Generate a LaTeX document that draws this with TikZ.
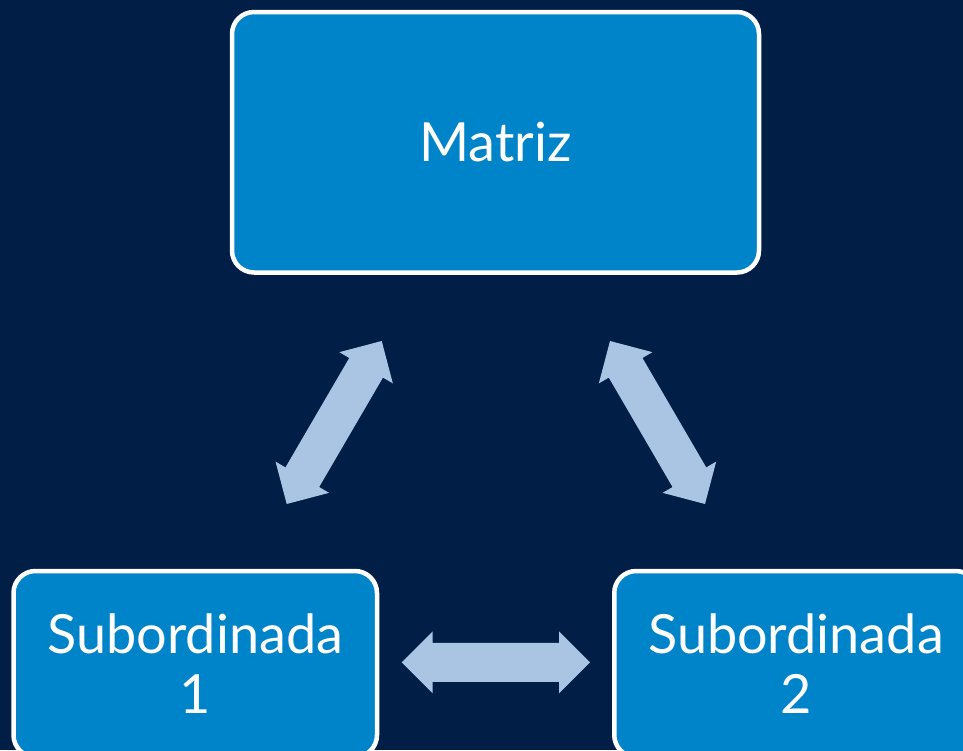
\documentclass[tikz,border=0pt]{standalone}
\usepackage{fontspec}
\setmainfont{Lato}
\usetikzlibrary{calc}
\definecolor{bgnavy}{HTML}{001E46}
\definecolor{boxblue}{HTML}{0084C9}
\definecolor{arrowblue}{HTML}{A9C5E3}
\tikzset{
  box/.style={draw=white, line width=4.5pt, fill=boxblue, rounded corners=22pt,
    inner sep=0pt, text=white, align=center,
    font=\fontsize{54}{60}\selectfont},
  blockarrow/.style={fill=arrowblue, draw=none}
}
\newcommand\myblockarrow[2]{%
  \path[blockarrow]
    (#1)
    -- ($($(#1)!31pt!(#2)$)!31pt!90:(#2)$)
    -- ($($(#1)!31pt!(#2)$)!19.5pt!90:(#2)$)
    -- ($($(#2)!31pt!(#1)$)!19.5pt!-90:(#1)$)
    -- ($($(#2)!31pt!(#1)$)!31pt!-90:(#1)$)
    -- (#2)
    -- ($($(#2)!31pt!(#1)$)!31pt!90:(#1)$)
    -- ($($(#2)!31pt!(#1)$)!19.5pt!90:(#1)$)
    -- ($($(#1)!31pt!(#2)$)!19.5pt!-90:(#2)$)
    -- ($($(#1)!31pt!(#2)$)!31pt!-90:(#2)$)
    -- cycle;}
\begin{document}
\begin{tikzpicture}[x=1pt,y=-1pt]
  \fill[bgnavy] (0,0) rectangle (963,750);
  \useasboundingbox (0,0) rectangle (963,750);
  \node[box, minimum width=527pt, minimum height=260.5pt] (matriz) at (495.5,142.25) {Matriz};
  \node[box, minimum width=363.5pt, minimum height=186pt] (sub1) at (195.25,664) {Subordinada\\1};
  \node[box, minimum width=363.5pt, minimum height=186pt] (sub2) at (796,664) {Subordinada\\2};
  \coordinate (a1) at (286.7,504);
  \coordinate (a2) at (381.7,341);
  \coordinate (b1) at (610,341);
  \coordinate (b2) at (705,504);
  \coordinate (c1) at (401.7,662.3);
  \coordinate (c2) at (590,662.3);
  \myblockarrow{a1}{a2}
  \myblockarrow{b1}{b2}
  \myblockarrow{c1}{c2}
\end{tikzpicture}
\end{document}
